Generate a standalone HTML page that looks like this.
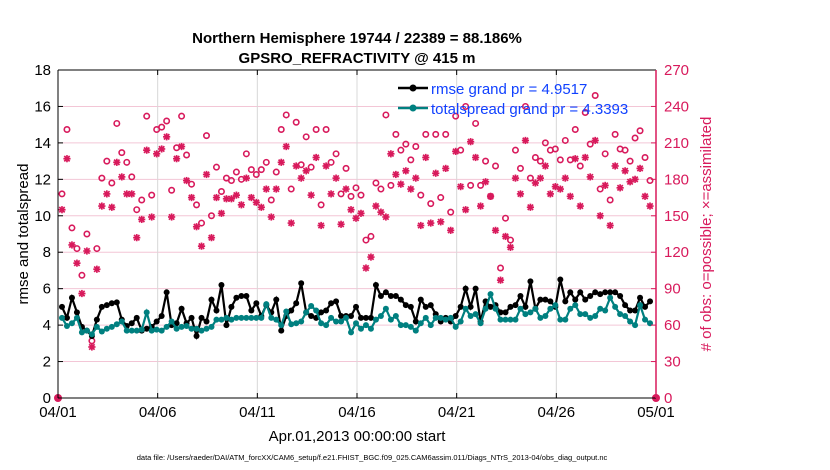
<!DOCTYPE html>
<html><head><meta charset="utf-8"><style>
body{margin:0;background:#fff;}
svg{display:block;font-family:"Liberation Sans",sans-serif;}
</style></head><body>
<svg id="chart" width="830" height="470">
<g id="grid"></g>
<g id="marks"></g>
<g id="axes"></g>
<text x="357" y="43" text-anchor="middle" font-size="15" font-weight="bold">Northern Hemisphere 19744 / 22389 = 88.186%</text>
<text x="357" y="63" text-anchor="middle" font-size="15" font-weight="bold">GPSRO_REFRACTIVITY @ 415 m</text>
<text transform="translate(28,234) rotate(-90)" text-anchor="middle" font-size="15">rmse and totalspread</text>
<text transform="translate(711,234) rotate(-90)" text-anchor="middle" font-size="15" fill="#d81a5c"># of obs: o=possible; ×=assimilated</text>
<text x="357" y="441" text-anchor="middle" font-size="15">Apr.01,2013 00:00:00 start</text>
<text x="372" y="460" text-anchor="middle" font-size="7.5">data file: /Users/raeder/DAI/ATM_forcXX/CAM6_setup/f.e21.FHIST_BGC.f09_025.CAM6assim.011/Diags_NTrS_2013-04/obs_diag_output.nc</text>
<g>
<line x1="398" y1="88" x2="428" y2="88" stroke="#000" stroke-width="2.5"/><circle cx="413" cy="88" r="3.5" fill="#000"/>
<text x="431" y="94" font-size="15" fill="#1041ff">rmse grand pr = 4.9517</text>
<line x1="398" y1="108" x2="428" y2="108" stroke="#008080" stroke-width="2.5"/><circle cx="413" cy="108" r="3.5" fill="#008080"/>
<text x="431" y="114" font-size="15" fill="#1041ff">totalspread grand pr = 4.3393</text>
</g>
</svg>
<script>
const rmse=[5.0,4.4,5.5,4.7,3.9,3.7,3.4,4.3,5.0,5.1,5.2,5.25,4.3,3.95,4.1,4.4,3.7,3.8,3.9,4.2,4.5,5.8,4.0,4.1,4.9,4.1,4.4,3.4,4.4,4.2,5.4,4.8,6.2,4.0,5.0,5.5,5.6,5.6,4.8,5.2,4.5,5.1,4.7,5.4,3.7,4.5,4.8,5.2,6.3,4.7,4.5,4.4,4.7,4.8,5.2,5.3,4.5,4.5,
4.5,5.0,4.4,4.4,4.4,6.2,5.6,5.8,5.6,5.6,5.4,5.1,5.0,4.2,5.4,5.0,5.1,4.6,4.2,4.4,4.2,4.5,5.0,6.0,5.0,6.0,4.2,5.3,5.0,5.1,4.7,4.7,5.0,5.1,5.6,5.0,6.4,4.9,5.4,5.4,5.3,5.0,6.5,5.3,5.8,5.4,5.8,5.4,5.6,5.8,5.7,5.8,5.8,5.8,5.6,5.1,4.8,4.8,5.5,5.0,5.3];
const spread=[4.4,3.95,4.1,4.4,3.6,3.7,3.5,3.9,3.65,3.8,3.9,4.05,4.2,3.7,3.7,3.7,3.75,4.7,3.7,3.75,3.7,3.9,4.2,3.8,3.9,3.95,3.8,3.8,3.7,3.8,3.9,4.3,4.3,4.4,4.3,4.4,4.4,4.4,4.4,4.4,4.4,5.15,4.4,4.3,4.0,4.75,4.05,4.1,4.2,4.7,5.05,4.8,4.1,4.0,4.4,4.2,4.2,4.4,
3.6,4.1,3.8,4.0,3.8,4.3,4.5,4.9,4.3,4.5,4.0,4.0,3.9,3.7,4.1,4.4,4.0,4.4,4.4,4.3,4.4,3.9,4.2,4.9,4.5,4.6,4.1,4.9,5.7,4.9,4.3,4.3,4.3,4.3,4.9,4.6,4.7,4.9,4.4,4.5,4.9,5.1,4.3,4.3,4.9,5.1,4.6,4.6,4.4,4.5,4.9,4.8,5.5,5.0,4.6,4.5,4.2,4.0,5.1,4.3,4.1];
const possible=[168,221,140,123,101,135,47,123,181,195,177,226,202,194,182,155,163,232,167,221,223,228,171,206,232,200,176,159,144,216,150,190,170,181,179,186,180,201,188,184,188,194,163,186,221,233,172,227,192,215,190,221,159,221,194,201,168,189,
166,173,167,130,133,177,172,233,175,217,204,209,196,207,167,217,160,217,165,217,153,232,204,240,175,226,175,195,166,191,107,148,130,204,189,240,181,198,195,210,204,205,196,212,196,221,191,235,209,249,172,201,163,217,205,204,195,214,220,198,179];
const assim=[155,197,126,111,86,121,42,106,158,168,157,194,182,168,168,132,147,204,149,201,205,215,149,197,207,179,165,141,125,184,132,165,152,164,164,167,159,181,165,161,157,172,149,172,194,207,144,191,181,187,167,198,142,191,168,181,143,172,
155,148,152,107,116,158,153,149,201,184,176,187,172,181,142,198,144,185,145,189,138,203,174,155,211,198,158,178,166,138,97,133,124,181,168,212,157,177,181,191,168,174,172,181,166,197,158,198,182,212,150,175,142,191,173,187,178,180,189,166,158];
const xTicks=["04/01","04/06","04/11","04/16","04/21","04/26","05/01"];
const yTicks=[0,2,4,6,8,10,12,14,16,18];
const rTicks=[0,30,60,90,120,150,180,210,240,270];
const X0=58,X1=656,Y0=398,Y1=70,NS="http://www.w3.org/2000/svg";
const xDay=d=>X0+(X1-X0)*d/30;
const xIdx=i=>xDay((i+0.8)/4);
const yL=v=>Y0-(Y0-Y1)*v/18;
const yR=v=>Y0-(Y0-Y1)*v/270;
function mk(t,a,p){const e=document.createElementNS(NS,t);for(const k in a)e.setAttribute(k,a[k]);p.appendChild(e);return e;}
const grid=document.getElementById('grid'),marks=document.getElementById('marks'),axes=document.getElementById('axes');
rTicks.forEach(v=>{if(v>0&&v<270){const l=mk('line',{x1:X0,x2:X1,y1:yR(v),y2:yR(v),stroke:'#f3c6d6','stroke-width':1},grid);

}});
xTicks.forEach((t,i)=>{const x=xDay(i*5);if(i>0&&i<6){const l=mk('line',{x1:x,x2:x,y1:Y1,y2:Y0,stroke:'#d8d8d8','stroke-width':1},grid);

}
const tx=mk('text',{x:x,y:417,'text-anchor':'middle','font-size':15},axes);tx.textContent=t;


mk('line',{x1:x,x2:x,y1:Y0,y2:Y0-5,stroke:'#000'},axes);mk('line',{x1:x,x2:x,y1:Y1,y2:Y1+5,stroke:'#000'},axes);});
yTicks.forEach(v=>{const y=yL(v);const tx=mk('text',{x:51,y:y+5,'text-anchor':'end','font-size':15},axes);tx.textContent=v;


mk('line',{x1:X0,x2:X0+5,y1:y,y2:y,stroke:'#000'},axes);});
rTicks.forEach(v=>{const y=yR(v);const tx=mk('text',{x:664,y:y+5,'font-size':15,fill:'#d81a5c'},axes);tx.textContent=v;


mk('line',{x1:X1-5,x2:X1,y1:y,y2:y,stroke:'#d81a5c'},axes);});
mk('line',{x1:X0,x2:X1,y1:Y0,y2:Y0,stroke:'#000'},axes);
mk('line',{x1:X0,x2:X1,y1:Y1,y2:Y1,stroke:'#000'},axes);
mk('line',{x1:X0,x2:X0,y1:Y1,y2:Y0,stroke:'#000'},axes);
mk('line',{x1:X1,x2:X1,y1:Y1,y2:Y0,stroke:'#d81a5c','stroke-width':1.5},axes);
const pink='#d81a5c';
possible.forEach((v,i)=>{const c=mk('circle',{cx:xIdx(i),cy:yR(v),r:2.7,fill:'none',stroke:pink,'stroke-width':1.6},marks);

});
assim.forEach((v,i)=>{const x=xIdx(i),y=yR(v);const g=mk('g',{stroke:pink,'stroke-width':1.7},marks);


mk('line',{x1:x-3.6,x2:x+3.6,y1:y,y2:y},g);mk('line',{x1:x,x2:x,y1:y-3.6,y2:y+3.6},g);
mk('line',{x1:x-2.7,x2:x+2.7,y1:y-2.7,y2:y+2.7},g);mk('line',{x1:x-2.7,x2:x+2.7,y1:y+2.7,y2:y-2.7},g);});
function series(arr,col,name){const p=arr.map((v,i)=>xIdx(i)+','+yL(v)).join(' ');
const pl=mk('polyline',{points:p,fill:'none',stroke:col,'stroke-width':2.2},marks);


arr.forEach((v,i)=>{const c=mk('circle',{cx:xIdx(i),cy:yL(v),r:3,fill:col},marks);

});}
series(rmse,'#000','rmse');
series(spread,'#008080','totalspread');
[0,30].forEach(d=>{const c=mk('circle',{cx:xDay(d),cy:Y0,r:4,fill:pink},marks);

});
</script>
</body></html>
